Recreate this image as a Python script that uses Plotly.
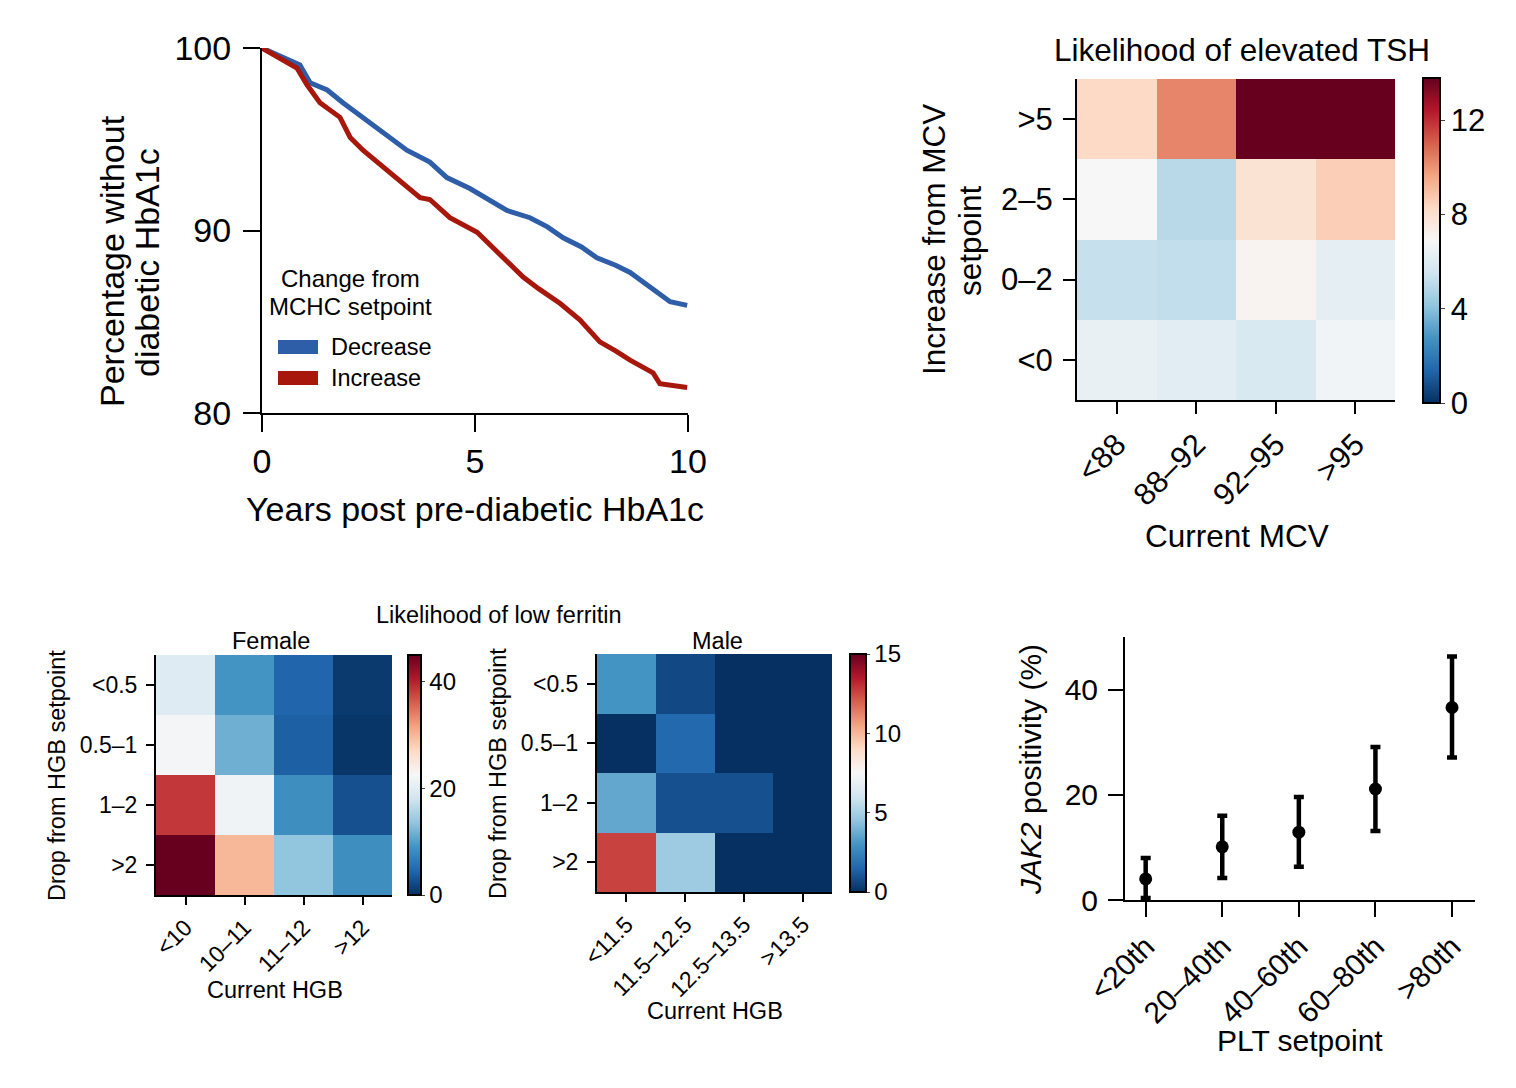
import plotly.graph_objects as go

W, H = 1516, 1088
def fx(x): return x / W
def fy(y): return 1 - y / H

FONT = "Liberation Sans, Arial, Helvetica, sans-serif"

# ---------- Panel a data ----------
dec_x = [0.0, 0.3, 0.6, 0.89, 1.13, 1.53, 1.9, 2.37, 2.9, 3.4, 3.94, 4.34, 4.88, 5.3, 5.75, 6.29, 6.7, 7.07, 7.5, 7.86, 8.3, 8.64, 9.11, 9.58, 9.98]
dec_y = [100.0, 99.7, 99.4, 99.07, 98.1, 97.7, 97.0, 96.2, 95.3, 94.4, 93.75, 92.9, 92.3, 91.7, 91.1, 90.7, 90.2, 89.6, 89.1, 88.5, 88.1, 87.7, 86.9, 86.1, 85.9]
inc_x = [0.0, 0.42, 0.82, 1.06, 1.36, 1.83, 2.07, 2.37, 2.84, 3.17, 3.71, 3.94, 4.41, 5.05, 5.52, 6.13, 6.5, 7.0, 7.46, 7.93, 8.3, 8.64, 9.18, 9.34, 9.98]
inc_y = [100.0, 99.45, 98.9, 97.97, 97.0, 96.2, 95.1, 94.4, 93.5, 92.9, 91.8, 91.7, 90.7, 89.9, 88.8, 87.45, 86.8, 86.0, 85.1, 83.9, 83.4, 82.9, 82.2, 81.6, 81.4]
a_xticks = [0, 5, 10]
a_yticks = [80, 90, 100]

# ---------- Panel b data ----------
mcv_cats = ["<88", "88–92", "92–95", ">95"]
mcv_rows = [">5", "2–5", "0–2", "<0"]
tsh_z = [
    [8.3, 10.3, 14.0, 14.0],
    [6.9, 5.0, 7.9, 8.6],
    [5.3, 5.2, 7.1, 6.2],
    [6.4, 6.1, 5.8, 6.7],
]
tsh_ticks = [0, 4, 8, 12]

# ---------- Panel c data ----------
hgb_rows = ["<0.5", "0.5–1", "1–2", ">2"]
female_cats = ["<10", "10–11", "11–12", ">12"]
female_z = [
    [19.5, 9.0, 4.5, 0.8],
    [22.0, 11.5, 4.0, 0.5],
    [38.5, 21.5, 8.5, 2.7],
    [45.0, 30.0, 13.5, 8.5],
]
female_ticks = [0, 20, 40]
male_cats = ["<11.5", "11.5–12.5", "12.5–13.5", ">13.5"]
male_z = [
    [3.0, 0.7, 0.0, 0.0],
    [0.0, 1.6, 0.0, 0.0],
    [3.6, 0.9, 0.9, 0.0],
    [12.6, 4.8, 0.0, 0.0],
]
male_ticks = [0, 5, 10, 15]

# ---------- Panel d data ----------
plt_cats = ["<20th", "20–40th", "40–60th", "60–80th", ">80th"]
jak2_mean = [4.0, 10.1, 12.9, 21.1, 36.6]
jak2_low = [0.4, 4.2, 6.3, 13.1, 27.1]
jak2_high = [8.0, 16.0, 19.6, 29.1, 46.3]

rdbu = ['rgb(5,48,97)', 'rgb(33,102,172)', 'rgb(67,147,195)', 'rgb(146,197,222)',
        'rgb(209,229,240)', 'rgb(247,247,247)', 'rgb(253,219,199)', 'rgb(244,165,130)',
        'rgb(214,96,77)', 'rgb(178,24,43)', 'rgb(103,0,31)']
cscale = [[i / 10, c] for i, c in enumerate(rdbu)]

BLUE = "#2f5ea8"
RED = "#a8170c"

fig = go.Figure()

# Panel a
fig.add_trace(go.Scatter(x=dec_x, y=dec_y, mode="lines", line=dict(color=BLUE, width=5),
                         xaxis="x", yaxis="y", showlegend=False, cliponaxis=False))
fig.add_trace(go.Scatter(x=inc_x, y=inc_y, mode="lines", line=dict(color=RED, width=5),
                         xaxis="x", yaxis="y", showlegend=False, cliponaxis=False))

# Panel b
fig.add_trace(go.Heatmap(z=tsh_z, x=mcv_cats, y=mcv_rows, colorscale=cscale, zmin=0, zmax=13.8,
                         xaxis="x2", yaxis="y2",
                         colorbar=dict(x=fx(1423), xanchor="left", xpad=0, ypad=0,
                                       y=fy(240.5), yanchor="middle", len=325, lenmode="pixels",
                                       thickness=17, outlinewidth=2, outlinecolor="black",
                                       tickvals=tsh_ticks, ticks="outside", ticklen=4,
                                       tickfont=dict(size=31, color="black", family=FONT))))
# Panel c female
fig.add_trace(go.Heatmap(z=female_z, x=female_cats, y=hgb_rows, colorscale=cscale, zmin=0, zmax=45,
                         xaxis="x3", yaxis="y3",
                         colorbar=dict(x=fx(408), xanchor="left", xpad=0, ypad=0,
                                       y=fy(775), yanchor="middle", len=240, lenmode="pixels",
                                       thickness=13, outlinewidth=2, outlinecolor="black",
                                       tickvals=female_ticks, ticks="outside", ticklen=3,
                                       tickfont=dict(size=24, color="black", family=FONT))))
# Panel c male
fig.add_trace(go.Heatmap(z=male_z, x=male_cats, y=hgb_rows, colorscale=cscale, zmin=0, zmax=15,
                         xaxis="x4", yaxis="y4",
                         colorbar=dict(x=fx(850), xanchor="left", xpad=0, ypad=0,
                                       y=fy(773), yanchor="middle", len=238, lenmode="pixels",
                                       thickness=16, outlinewidth=2, outlinecolor="black",
                                       tickvals=male_ticks, ticks="outside", ticklen=3,
                                       tickfont=dict(size=24, color="black", family=FONT))))
# Panel d
fig.add_trace(go.Scatter(x=list(range(len(plt_cats))), y=jak2_mean, mode="markers",
                         marker=dict(color="black", size=13),
                         error_y=dict(type="data", symmetric=False,
                                      array=[h - m for h, m in zip(jak2_high, jak2_mean)],
                                      arrayminus=[m - l for m, l in zip(jak2_mean, jak2_low)],
                                      color="black", thickness=4.5, width=5),
                         xaxis="x5", yaxis="y5", showlegend=False, cliponaxis=False))

def axstyle(**kw):
    base = dict(showline=True, linecolor="black", linewidth=2, ticks="outside",
                tickcolor="black", tickwidth=2, showgrid=False, zeroline=False,
                automargin=False, tickfont=dict(family=FONT, color="black"))
    base.update(kw)
    return base

fig.update_layout(
    width=W, height=H, margin=dict(l=0, r=0, t=0, b=0, pad=0, autoexpand=False),
    paper_bgcolor="white", plot_bgcolor="white",
    font=dict(family=FONT, color="black"),
    showlegend=False,
    xaxis=axstyle(domain=[fx(262), fx(688)], range=[0, 10], tickvals=a_xticks, ticklen=17,
                  tickfont=dict(size=34, family=FONT, color="black"), anchor="y", ticklabelstandoff=0),
    yaxis=axstyle(domain=[fy(413), fy(48)], range=[80, 100], tickvals=a_yticks, ticklen=17,
                  tickfont=dict(size=34, family=FONT, color="black"), anchor="x", ticklabelstandoff=5),
    xaxis2=axstyle(domain=[fx(1077), fx(1395)], ticklen=12, tickangle=-45, anchor="y2",
                   tickfont=dict(size=31, family=FONT, color="black")),
    yaxis2=axstyle(domain=[fy(400), fy(79)], ticklen=12, autorange="reversed", anchor="x2",
                   tickfont=dict(size=31, family=FONT, color="black"), ticklabelstandoff=4),
    xaxis3=axstyle(domain=[fx(156), fx(392)], ticklen=8, tickangle=-45, anchor="y3",
                   tickfont=dict(size=23, family=FONT, color="black")),
    yaxis3=axstyle(domain=[fy(895), fy(655)], ticklen=8, autorange="reversed", anchor="x3",
                   tickfont=dict(size=23, family=FONT, color="black"), ticklabelstandoff=4),
    xaxis4=axstyle(domain=[fx(597), fx(832)], ticklen=8, tickangle=-45, anchor="y4",
                   tickfont=dict(size=23, family=FONT, color="black")),
    yaxis4=axstyle(domain=[fy(892), fy(654)], ticklen=8, autorange="reversed", anchor="x4",
                   tickfont=dict(size=23, family=FONT, color="black"), ticklabelstandoff=4),
    xaxis5=axstyle(domain=[fx(1125), fx(1475)], range=[-0.27, 4.3],
                   tickvals=list(range(len(plt_cats))), ticktext=plt_cats, ticklen=15,
                   tickangle=-45, anchor="y5", tickfont=dict(size=30, family=FONT, color="black")),
    yaxis5=axstyle(domain=[fy(900), fy(637)], range=[0, 50], tickvals=[0, 20, 40], ticklen=15,
                   anchor="x5", tickfont=dict(size=30, family=FONT, color="black"), ticklabelstandoff=4),
)

def ann(text, x, y, size, angle=0, xanchor="center", yanchor="middle", align="center"):
    fig.add_annotation(text=text, x=fx(x), y=fy(y), xref="paper", yref="paper",
                       showarrow=False, textangle=angle, xanchor=xanchor, yanchor=yanchor,
                       align=align, font=dict(size=size, family=FONT, color="black"))

# Panel a titles and legend
ann("Years post pre-diabetic HbA1c", 475, 509, 34)
ann("Percentage without", 112, 261, 34, angle=-90)
ann("diabetic HbA1c", 147, 263, 34, angle=-90)
ann("Change from", 350, 278, 24)
ann("MCHC setpoint", 350, 306, 24)
fig.add_shape(type="rect", xref="paper", yref="paper", x0=fx(278), x1=fx(318), y0=fy(354), y1=fy(340),
              fillcolor=BLUE, line=dict(width=0))
fig.add_shape(type="rect", xref="paper", yref="paper", x0=fx(278), x1=fx(318), y0=fy(385), y1=fy(371),
              fillcolor=RED, line=dict(width=0))
ann("Decrease", 329, 347, 23.5, xanchor="left")
ann("Increase", 329, 378, 23.5, xanchor="left")

# Panel b titles
ann("Likelihood of elevated TSH", 1242, 50, 31.5)
ann("Increase from MCV", 934, 240, 31.5, angle=-90)
ann("setpoint", 970, 241, 31.5, angle=-90)
ann("Current MCV", 1237, 536, 31.5)

# Panel c titles
ann("Likelihood of low ferritin", 499, 615, 23.5)
ann("Female", 271, 641, 23.5)
ann("Male", 717, 641, 23.5)
ann("Drop from HGB setpoint", 57, 776, 23.5, angle=-90)
ann("Drop from HGB setpoint", 498, 774, 23.5, angle=-90)
ann("Current HGB", 275, 990, 23.5)
ann("Current HGB", 715, 1011, 23.5)

# Panel d titles
ann("<i>JAK2</i> positivity (%)", 1030, 770, 30, angle=-90)
ann("PLT setpoint", 1300, 1040, 30)

fig.write_html("out.html", config={"displayModeBar": False},
               post_script="document.body.style.margin='0';document.body.style.overflow='hidden';")
